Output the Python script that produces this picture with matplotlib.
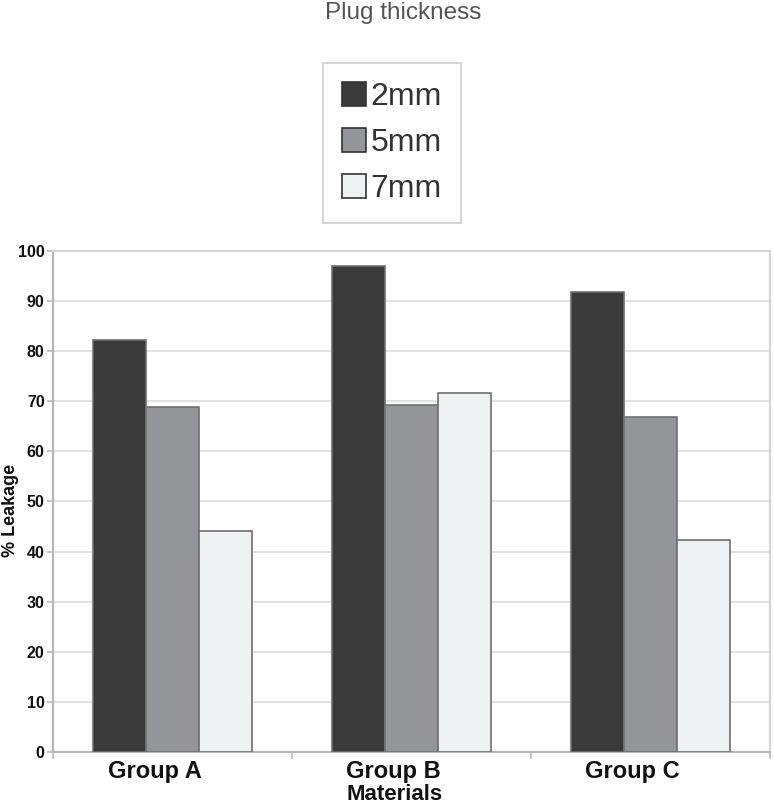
import matplotlib
matplotlib.use("Agg")
import matplotlib.pyplot as plt
import matplotlib.transforms as mtransforms
import numpy as np
from matplotlib.patches import Patch

plt.rcParams['font.family'] = ['Liberation Sans', 'DejaVu Sans']

groups = ["Group A", "Group B", "Group C"]
series_names = ["2mm", "5mm", "7mm"]
vals_2mm = [82.2, 97.0, 91.8]
vals_5mm = [68.9, 69.3, 66.9]
vals_7mm = [44.1, 71.7, 42.3]
yticks = [0, 10, 20, 30, 40, 50, 60, 70, 80, 90, 100]

colors = ["#3a3a3a", "#939598", "#eef2f2"]
edge = "#6f6f6f"

fig = plt.figure(figsize=(7.74, 8.06), dpi=100)
ax = fig.add_axes([0.0685, 0.067, 0.9263, 0.6216])

x = np.arange(len(groups))
w = 0.222
for i, (vals, c) in enumerate(zip([vals_2mm, vals_5mm, vals_7mm], colors)):
    ax.bar(x + (i - 1) * w, vals, w, color=c, edgecolor=edge, linewidth=1.2, zorder=3)

ax.set_xlim(-0.5, 2.5)
ax.set_ylim(0, 100)
ax.set_yticks(yticks)
ax.set_yticklabels([str(t) for t in yticks], fontsize=11.5, fontweight='bold', color='#111')
ax.set_xticks(x)
ax.set_xticklabels([])
ax.tick_params(axis='x', which='major', length=0)
offset = mtransforms.ScaledTranslation(-18 / 100, -8 / 100, fig.dpi_scale_trans)
for xi, g in zip(x, groups):
    ax.text(xi, 0, g, transform=ax.get_xaxis_transform() + offset,
            fontsize=17, fontweight='bold', color='#111', ha='center', va='top')
ax.set_xticks([-0.5, 0.5, 1.5, 2.5], minor=True)
ax.tick_params(axis='x', which='minor', length=5, color='#bbb', width=1.2)
ax.tick_params(axis='y', length=4, color='#bbb', width=1.2, pad=2)
ax.grid(axis='y', color='#e2e2e2', linewidth=1.5, zorder=0)
for s in ['left', 'bottom']:
    ax.spines[s].set_color('#b5b5b5')
    ax.spines[s].set_linewidth(1.5)
for s in ['top', 'right']:
    ax.spines[s].set_color('#d5d5d5')
    ax.spines[s].set_linewidth(1.5)

ax.set_ylabel("% Leakage", fontsize=13, fontweight='bold', color='#111')
ax.yaxis.label.set_va('center')
ax.yaxis.set_label_coords((10 - 53) / 717, (752 - 510) / 501)
fig.text(395 / 774, 1 - 794 / 806, "Materials", fontsize=16, fontweight='bold',
         color='#111', ha='center', va='center')

fig.text(403 / 774, 1 - 13 / 806, "Plug thickness", fontsize=17.5, color='#555',
         ha='center', va='center')

handles = [Patch(facecolor=c, edgecolor='#333', linewidth=1.2) for c in colors]
leg = fig.legend(handles, series_names, loc='center',
                 bbox_to_anchor=(392 / 774, 1 - 143 / 806),
                 fontsize=23, frameon=True, fancybox=False,
                 handlelength=0.75, handleheight=0.75, handletextpad=0.15,
                 labelspacing=0.5, borderpad=0.6, borderaxespad=0)
leg.get_frame().set_edgecolor('#cccccc')
leg.get_frame().set_linewidth(1.5)
for t in leg.get_texts():
    t.set_color('#333')

fig.savefig("out.png", dpi=100)
